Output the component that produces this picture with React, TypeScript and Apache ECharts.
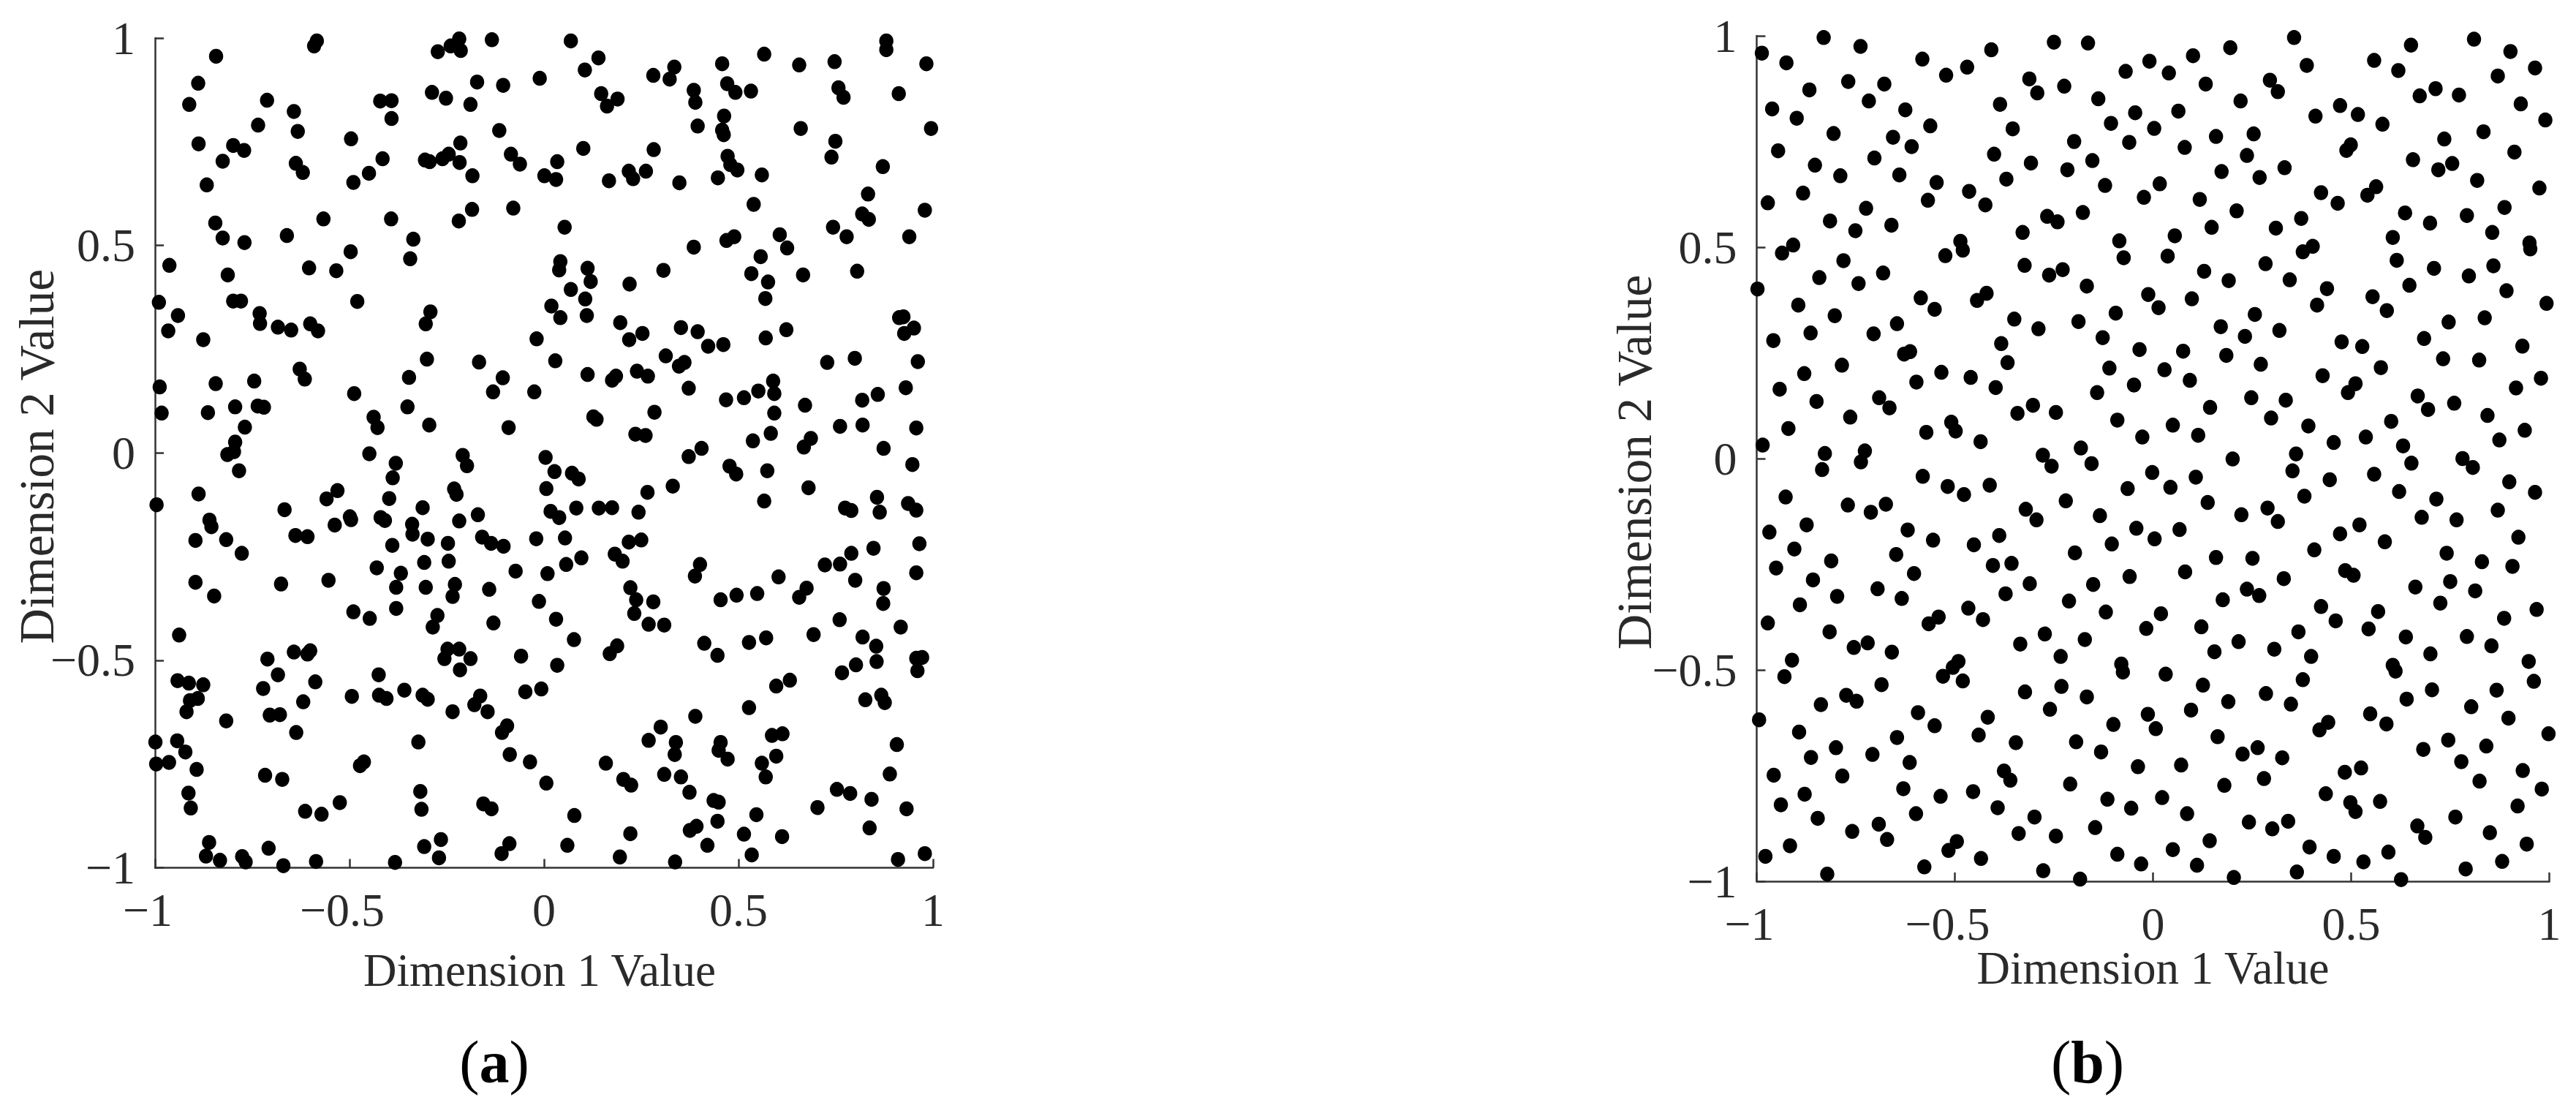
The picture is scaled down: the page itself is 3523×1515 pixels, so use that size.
import React, { useEffect, useRef } from "react";
import * as echarts from "echarts";

const xTitle = "Dimension 1 Value";
const yTitle = "Dimension 2 Value";
const captions = ["a", "b"];
const tickLabels: Record<string, string> = { "-1": "−1", "-0.5": "−0.5", "0": "0", "0.5": "0.5", "1": "1" };

const pointsAUpperLeft = [
[-.843,.956],[-.889,.891],[-.912,.840],[-.888,.745],[-.826,.703],[-.799,.741],[-.771,.729],[-.867,.646],[-.735,.790],[-.712,.850],[-.643,.823],[-.633,.775],[-.638,.698],[-.620,.676],[-.584,.993],[-.591,.981],[-.496,.757],[-.490,.652],[-.450,.674],[-.415,.709],[-.421,.848],[-.392,.849],[-.392,.806],[-.273,.967],[-.240,.981],[-.218,.998],[-.214,.970],[-.288,.869],[-.252,.855],[-.172,.894],[-.189,.840],[-.105,.886],[-.134,.996],[-.011,.903],[-.115,.777],[-.215,.747],[-.306,.706],[-.294,.702],[-.261,.709],[-.245,.720],[-.217,.700],[-.184,.668],[-.085,.720],[-.062,.696],[.001,.668],
[-.845,.554],[-.826,.518],[-.770,.507],[-.661,.524],[-.567,.564],[-.393,.564],[-.219,.559],[-.185,.587],[-.079,.590],[-.336,.515],[-.344,.468],[-.497,.485],[-.604,.446],[-.534,.439],[-.963,.452],[-.813,.429],[-.799,.366],[-.779,.366],[-.990,.363],[-.941,.331],[-.966,.294],[-.876,.273],[-.731,.336],[-.730,.312],[-.684,.303],[-.650,.296],[-.601,.311],[-.581,.294],[-.480,.365],[-.292,.340],[-.304,.311],[-.019,.275],[-.301,.226],[-.167,.219],[-.347,.182],[-.106,.181],[-.131,.147],[-.025,.147],[-.628,.202],[-.615,.178],[-.988,.159],[-.844,.167],[-.745,.173],[-.488,.143],[-.983,.096],[-.864,.097],[-.794,.111],[-.736,.113],[-.720,.110],[-.769,.062],[-.438,.086],[-.428,.061],[-.351,.111],[-.295,.067],[-.091,.061],[-.794,.026],[-.797,.003],[-.814,-.004],[-.449,-.002],[-.381,-.025],[-.209,-.006],[-.198,-.031],[.004,-.011],[-.784,-.043],
];

const pointsAUpperRight = [
[.069,.993],[.140,.952],[.105,.923],[.147,.866],[.189,.853],[.162,.836],[.281,.910],[.335,.930],[.323,.901],[.385,.874],[.389,.845],[.458,.938],[.471,.890],[.492,.869],[.532,.872],[.566,.961],[.656,.935],[.747,.943],[.880,.993],[.880,.972],[.983,.938],[.757,.880],[.770,.857],[.912,.866],[.463,.812],[.395,.788],[.458,.778],[.462,.767],[.660,.782],[.995,.782],[.749,.751],[.739,.713],[.871,.690],[.101,.734],[.282,.731],[.034,.702],[.031,.659],[.167,.656],[.218,.679],[.229,.661],[.262,.679],[.348,.651],[.447,.663],[.472,.715],[.479,.695],[.497,.682],[.560,.670],[.539,.599],[.833,.624],[.818,.576],[.835,.563],[.979,.585],[.053,.544],[.385,.496],[.469,.512],[.489,.521],[.606,.526],[.625,.494],[.743,.544],[.778,.521],[.939,.521],[.557,.473],[.042,.461],[.039,.441],[.112,.445],[.120,.413],[.307,.440],[.533,.432],[.576,.412],[.666,.429],[.805,.438],
[.069,.394],[.106,.371],[.220,.407],[.569,.372],[.019,.354],[.042,.326],[.110,.331],[.196,.314],[.253,.288],[.219,.273],[.352,.302],[.395,.292],[.422,.257],[.461,.261],[.570,.277],[.623,.297],[.913,.326],[.924,.328],[.951,.301],[.926,.288],[.029,.222],[.313,.234],[.347,.209],[.361,.218],[.728,.218],[.799,.228],[.961,.220],[.112,.189],[.175,.175],[.185,.185],[.239,.197],[.267,.185],[.589,.173],[.372,.156],[.592,.143],[.551,.149],[.514,.133],[.468,.128],[.930,.157],[.858,.141],[.818,.127],[.671,.115],[.592,.096],[.284,.098],[.127,.087],[.135,.081],[.761,.064],[.819,.067],[.957,.060],[.235,.045],[.261,.042],[.583,.047],[.537,.029],[.686,.035],[.668,.014],[.873,.011],[.405,.011],[.372,-.009],[.947,-.028],[.027,-.045],[.072,-.049],[.477,-.032],[.494,-.051],[.574,-.043],
];

const pointsALowerLeft = [
[-.389,-.060],[-.888,-.099],[-.996,-.125],[-.667,-.137],[-.559,-.111],[-.531,-.091],[-.398,-.110],[-.312,-.132],[-.231,-.087],[-.225,-.100],[.006,-.086],[-.170,-.149],[-.860,-.162],[-.855,-.178],[-.896,-.211],[-.817,-.209],[-.777,-.242],[-.639,-.199],[-.608,-.202],[-.538,-.174],[-.499,-.154],[-.496,-.161],[-.420,-.156],[-.409,-.163],[-.339,-.172],[-.338,-.196],[-.299,-.208],[-.390,-.223],[-.247,-.218],[-.218,-.164],[-.159,-.203],[-.136,-.218],[-.104,-.225],[-.020,-.207],[-.308,-.264],[-.245,-.261],[-.430,-.277],[-.368,-.290],[-.554,-.307],[-.676,-.316],[-.896,-.312],[-.848,-.345],[-.380,-.324],[-.304,-.324],[-.229,-.317],[-.235,-.346],[-.141,-.329],[-.073,-.285],[.009,-.291],[-.013,-.358],[-.380,-.375],[-.490,-.383],[-.448,-.399],[-.274,-.392],[-.286,-.420],[-.130,-.410],[-.938,-.439],[-.248,-.473],[-.218,-.473],[-.256,-.496],[-.189,-.496],[-.216,-.523],[-.643,-.480],[-.608,-.485],[-.601,-.477],[-.711,-.497],[-.684,-.535],[-.722,-.568],[-.588,-.552],[-.619,-.600],[-.705,-.632],[-.679,-.631],[-.637,-.674],[-.059,-.490],[-.425,-.535],[-.494,-.587],[-.424,-.584],[-.405,-.592],[-.359,-.572],[-.312,-.584],[-.299,-.594],[-.164,-.586],[-.179,-.607],[-.235,-.624],[-.145,-.624],[-.048,-.576],[-.007,-.569],
[-.942,-.549],[-.913,-.555],[-.876,-.559],[-.890,-.592],[-.910,-.597],[-.919,-.624],[-.817,-.646],[-.999,-.697],[-.943,-.694],[-.922,-.721],[-.997,-.750],[-.964,-.746],[-.893,-.763],[-.914,-.820],[-.908,-.856],[-.717,-.777],[-.673,-.787],[-.473,-.754],[-.463,-.745],[-.323,-.697],[-.318,-.816],[-.315,-.859],[-.108,-.674],[-.095,-.658],[-.088,-.727],[-.036,-.745],[.006,-.796],[-.525,-.843],[-.614,-.864],[-.572,-.871],[-.156,-.846],[-.135,-.858],[-.265,-.932],[-.308,-.949],[-.270,-.976],[-.383,-.987],[-.586,-.985],[-.670,-.995],[-.708,-.953],[-.776,-.973],[-.767,-.986],[-.833,-.982],[-.869,-.972],[-.861,-.939],[-.109,-.966],[-.089,-.942],
];

const pointsALowerRight = [
[.089,-.063],[.017,-.141],[.039,-.156],[.083,-.133],[.141,-.133],[.175,-.132],[.243,-.143],[.266,-.095],[.331,-.080],[.566,-.116],[.680,-.084],[.774,-.133],[.790,-.139],[.856,-.107],[.863,-.143],[.936,-.122],[.957,-.138],[.054,-.205],[.218,-.215],[.250,-.210],[.965,-.219],[.847,-.230],[.790,-.242],[.761,-.268],[.722,-.270],[.800,-.307],[.957,-.289],[.873,-.327],[.872,-.363],[.675,-.326],[.656,-.348],[.603,-.299],[.548,-.339],[.495,-.343],[.454,-.354],[.401,-.269],[.388,-.297],[.182,-.244],[.202,-.261],[.096,-.253],[.057,-.269],[.222,-.325],[.237,-.354],[.281,-.359],[.232,-.387],[.269,-.413],[.309,-.415],[.031,-.401],[.077,-.450],[.188,-.465],[.169,-.484],[.034,-.512],[.412,-.459],[.446,-.488],[.527,-.457],[.571,-.446],[.693,-.438],[.760,-.402],[.819,-.444],[.917,-.420],[.854,-.466],[.855,-.503],[.802,-.511],[.766,-.530],[.957,-.495],[.972,-.493],[.960,-.525],
[.632,-.548],[.597,-.562],[.527,-.614],[.389,-.635],[.826,-.595],[.867,-.584],[.876,-.602],[.300,-.661],[.269,-.693],[.339,-.698],[.336,-.727],[.454,-.698],[.449,-.717],[.472,-.738],[.586,-.681],[.613,-.677],[.597,-.731],[.560,-.748],[.570,-.781],[.907,-.703],[.889,-.774],[.159,-.748],[.309,-.775],[.352,-.781],[.204,-.787],[.224,-.801],[.374,-.818],[.436,-.838],[.449,-.842],[.078,-.874],[.753,-.811],[.787,-.821],[.842,-.835],[.703,-.855],[.932,-.858],[.546,-.872],[.446,-.888],[.392,-.900],[.375,-.910],[.222,-.918],[.837,-.904],[.514,-.919],[.612,-.925],[.420,-.946],[.060,-.946],[.534,-.969],[.195,-.974],[.337,-.986],[.910,-.980],[.979,-.966],
];

const pointsBUpperLeft = [
[-.831,.996],[-.738,.975],[-.987,.959],[-.925,.936],[-.867,.872],[-.769,.892],[-.678,.886],[-.717,.846],[-.582,.945],[-.522,.907],[-.469,.926],[-.408,.967],[-.250,.985],[-.164,.983],[-.312,.898],[-.292,.865],[-.224,.881],[-.138,.851],[-.386,.838],[-.625,.825],[-.961,.827],[-.899,.805],[-.806,.769],[-.562,.787],[-.354,.780],[-.106,.793],[-.946,.728],[-.656,.760],[-.609,.738],[-.703,.711],[-.853,.694],[-.789,.669],[-.640,.671],[-.401,.720],[-.308,.699],[-.199,.750],[-.153,.705],[-.216,.683],[-.370,.661],[-.121,.646],[-.546,.653],[-.464,.632],[-.568,.611],[-.423,.600],[-.883,.628],[-.972,.605],[-.724,.592],[-.815,.562],[-.660,.552],[-.751,.539],[-.267,.573],[-.241,.560],[-.177,.582],[-.329,.535],[-.908,.505],[-.936,.486],[-.085,.515],[-.486,.514],[-.480,.493],[-.524,.480],[-.781,.468],[-.324,.457],[-.228,.447],[-.262,.434],[-.681,.439],[-.842,.428],[-.743,.414],
[-.998,.401],[-.167,.408],[-.586,.380],[-.551,.353],[-.420,.391],[-.444,.374],[-.895,.363],[-.803,.338],[-.646,.319],[-.350,.330],[-.289,.307],[-.188,.324],[-.094,.344],[-.864,.297],[-.705,.295],[-.958,.279],[-.127,.286],[-.383,.272],[-.613,.253],[-.628,.247],[-.367,.227],[-.785,.221],[-.110,.214],[-.534,.204],[-.880,.201],[-.597,.181],[-.460,.192],[-.397,.168],[-.942,.164],[-.141,.156],[-.691,.144],[-.665,.120],[-.849,.135],[-.764,.098],[-.303,.126],[-.342,.107],[-.245,.109],[-.509,.086],[-.498,.065],[-.920,.071],[-.572,.062],[-.435,.040],[-.090,.091],[-.985,.032],[-.828,.012],[-.727,.018],[-.737,-.008],[-.278,.008],[-.256,-.018],[-.182,.025],[-.155,-.012],[-.835,-.026],
];

const pointsBUpperRight = [
[-.069,.916],[-.009,.940],[.040,.912],[.101,.953],[.195,.972],[.356,.996],[.388,.930],[.133,.886],[.295,.895],[.315,.868],[.558,.942],[.619,.918],[.651,.978],[.810,.992],[.902,.963],[.964,.924],[.870,.905],[.713,.875],[.673,.858],[.772,.860],[.928,.839],[.990,.801],[-.045,.818],[.064,.822],[.221,.846],[.003,.781],[.159,.762],[.254,.768],[.410,.810],[.472,.835],[.517,.814],[.579,.791],[.834,.773],[.735,.756],[.499,.742],[.488,.729],[-.060,.748],[.080,.736],[.237,.717],[.912,.725],[.656,.707],[.332,.688],[.173,.679],[.269,.665],[.755,.698],[.720,.683],[.017,.650],[-.023,.618],[.818,.658],[.975,.640],[.118,.613],[.424,.629],[.466,.604],[.563,.643],[.541,.623],[.211,.586],[.636,.581],[.699,.557],[.792,.575],[.887,.594],[.374,.568],[.310,.545],[.148,.547],[.055,.527],[.605,.523],[.856,.535],[.403,.502],[.378,.489],[.950,.510],[.952,.496],[-.074,.475],[.037,.479],[.284,.461],[.615,.469],[.709,.450],[.859,.456],[.797,.432],[.129,.443],[.191,.421],[.345,.423],
[.439,.402],[.647,.410],[.892,.397],[-.012,.388],[.014,.357],[.098,.378],[.554,.383],[.590,.350],[.414,.363],[.993,.367],[.257,.341],[.746,.323],[.837,.333],[.171,.312],[.232,.289],[.319,.303],[-.034,.258],[.076,.254],[.476,.276],[.528,.265],[.684,.284],[.932,.266],[.185,.244],[.272,.223],[.732,.236],[.823,.233],[.029,.210],[.575,.215],[.428,.196],[.511,.177],[.492,.156],[.093,.185],[-.048,.174],[.979,.190],[.916,.167],[.248,.144],[.335,.138],[.668,.148],[.694,.116],[.760,.131],[.144,.121],[.844,.102],[.298,.096],[.601,.088],[.050,.079],[.392,.077],[-.027,.051],[.114,.055],[.537,.051],[.456,.038],[.631,.030],[.938,.067],[.874,.044],[.201,-.001],[.361,.011],[.652,-.011],[.781,.000],[.807,-.021],[-.002,-.033],[.352,-.029],[.558,-.037],
];

const pointsBLowerLeft = [
[-.581,-.042],[-.518,-.066],[-.477,-.085],[-.412,-.063],[-.927,-.091],[-.770,-.110],[-.712,-.127],[-.674,-.108],[-.321,-.120],[-.294,-.145],[-.220,-.100],[-.134,-.135],[-.968,-.174],[-.874,-.157],[-.619,-.169],[-.555,-.193],[-.452,-.204],[-.388,-.182],[-.104,-.202],[-.905,-.214],[-.812,-.242],[-.648,-.227],[-.197,-.223],[-.951,-.259],[-.404,-.253],[-.357,-.248],[-.603,-.272],[-.858,-.287],[-.695,-.308],[-.311,-.296],[-.151,-.298],[-.797,-.326],[-.634,-.331],[-.372,-.320],[-.212,-.337],[-.891,-.346],[-.466,-.354],[-.429,-.381],[-.119,-.363],[-.972,-.389],[-.541,-.375],[-.566,-.391],[-.816,-.410],[-.720,-.436],[-.755,-.447],[-.659,-.458],[-.273,-.415],[-.172,-.428],[-.335,-.439],[-.233,-.468],[-.911,-.477],[-.491,-.480],[-.505,-.494],[-.930,-.516],[-.530,-.515],[-.480,-.526],[-.685,-.535],[-.231,-.539],[-.323,-.552],[-.167,-.564],[-.774,-.560],[-.748,-.574],[-.838,-.582],[-.260,-.593],
[-.593,-.601],[-.417,-.612],[-.994,-.618],[-.551,-.632],[-.100,-.629],[-.440,-.654],[-.893,-.647],[-.800,-.684],[-.646,-.660],[-.346,-.672],[-.194,-.670],[-.131,-.694],[-.708,-.700],[-.863,-.707],[-.614,-.719],[-.376,-.739],[-.360,-.761],[-.957,-.749],[-.784,-.751],[-.630,-.781],[-.209,-.770],[-.879,-.794],[-.536,-.799],[-.454,-.788],[-.939,-.819],[-.392,-.826],[-.115,-.806],[-.598,-.840],[-.846,-.851],[-.299,-.848],[-.692,-.865],[-.759,-.882],[-.146,-.873],[-.339,-.887],[-.671,-.901],[-.245,-.893],[-.495,-.906],[-.516,-.927],[-.916,-.916],[-.978,-.941],[-.434,-.946],[-.090,-.936],[-.822,-.983],[-.577,-.966],[-.277,-.975],[-.184,-.995],
];

const pointsBLowerRight = [
[-.064,-.071],[.044,-.068],[.108,-.044],[.446,-.050],[.382,-.089],[.621,-.078],[.715,-.096],[.899,-.055],[.964,-.080],[.138,-.104],[.289,-.117],[.315,-.149],[.223,-.133],[.678,-.139],[.766,-.145],[.870,-.122],[-.042,-.165],[.004,-.190],[.067,-.168],[.472,-.178],[.521,-.157],[.585,-.197],[.922,-.186],[.407,-.216],[.159,-.234],[.251,-.236],[.741,-.224],[.830,-.244],[.907,-.255],[-.059,-.279],[.081,-.268],[.485,-.265],[.506,-.276],[.330,-.284],[.662,-.304],[.750,-.291],[.813,-.313],[.237,-.309],[.268,-.324],[.176,-.334],[.725,-.342],[.424,-.350],[.020,-.367],[-.017,-.402],[.461,-.384],[.568,-.362],[.544,-.403],[.122,-.398],[.886,-.378],[.968,-.357],[.367,-.410],[.638,-.422],[.792,-.421],[.854,-.443],[.216,-.433],[.306,-.451],[.155,-.457],[.399,-.468],[.700,-.462],[-.080,-.486],[-.076,-.505],[.605,-.489],[.612,-.503],[.948,-.480],[.032,-.510],[.378,-.523],[.961,-.527],
[.126,-.536],[.704,-.547],[.867,-.548],[.285,-.556],[.190,-.575],[.348,-.581],[.640,-.569],[.803,-.587],[-.013,-.605],[.007,-.639],[.096,-.595],[.548,-.604],[.589,-.628],[.442,-.624],[.420,-.642],[.897,-.614],[.163,-.658],[.998,-.651],[.745,-.666],[.841,-.680],[.682,-.688],[.226,-.699],[.264,-.684],[.326,-.708],[.778,-.717],[-.038,-.729],[.071,-.725],[.525,-.732],[.484,-.742],[.280,-.757],[.933,-.738],[.824,-.763],[.180,-.773],[.436,-.793],[.981,-.782],[.498,-.814],[.511,-.835],[.573,-.811],[.023,-.802],[-.055,-.827],[.086,-.840],[.920,-.822],[.763,-.848],[.242,-.860],[.301,-.876],[.341,-.858],[.667,-.869],[.687,-.896],[.850,-.885],[.143,-.904],[.395,-.919],[.050,-.925],[.594,-.931],[.943,-.912],[.456,-.941],[.531,-.954],[.111,-.962],[-.030,-.959],[.363,-.978],[.881,-.953],[.789,-.971],[.204,-.991],[.626,-.996],
];

const pointsA = [...pointsAUpperLeft, ...pointsAUpperRight, ...pointsALowerLeft, ...pointsALowerRight];
const pointsB = [...pointsBUpperLeft, ...pointsBUpperRight, ...pointsBLowerLeft, ...pointsBLowerRight];

const FONT = '"Liberation Serif", "Times New Roman", serif';
const INK = "#2a2a2a";

function tickFormatter(value: number) {
  const text = tickLabels[String(value)] ?? String(value);
  return value < 0 ? `{neg|${text}}` : `{pos|${text}}`;
}

function valueAxis(gridIndex: number, name: string, isY: boolean, nameGap: number, namePadding: number[]) {
  return {
    gridIndex,
    type: "value",
    min: -1,
    max: 1,
    interval: 0.5,
    name,
    nameLocation: "middle",
    nameGap,
    nameMoveOverlap: false,
    nameTextStyle: { fontFamily: FONT, fontSize: isY ? 67 : 63, color: INK, padding: namePadding },
    splitLine: { show: false },
    axisLine: { show: true, onZero: false, lineStyle: { color: "#333333", width: 2.5 } },
    axisTick: { show: true, inside: true, length: 12, lineStyle: { color: "#333333", width: 2.5 } },
    axisLabel: {
      show: true,
      margin: isY ? 27 : 26,
      color: INK,
      fontFamily: FONT,
      fontSize: 64,
      formatter: isY ? (v: number) => tickLabels[String(v)] ?? String(v) : tickFormatter,
      rich: isY
        ? undefined
        : {
            neg: { fontFamily: FONT, fontSize: 64, color: INK, padding: [0, 20, 0, 0] },
            pos: { fontFamily: FONT, fontSize: 64, color: INK },
          },
    },
  };
}

function caption(letter: string, cx: number) {
  return {
    type: "text",
    x: cx,
    y: 1452,
    style: {
      text: `{n|(}{b|${letter}}{n|)}`,
      align: "center",
      verticalAlign: "middle",
      rich: {
        n: { fontFamily: FONT, fontSize: 82, fill: "#000000" },
        b: { fontFamily: FONT, fontSize: 82, fontWeight: "bold", fill: "#000000" },
      },
    },
  };
}

export default function App() {
  const ref = useRef<HTMLDivElement>(null);
  useEffect(() => {
    if (!ref.current) return;
    const chart = echarts.init(ref.current, undefined, { renderer: "svg" });
    const dot = { color: "#000000", opacity: 1 };
    chart.setOption({
      animation: false,
      backgroundColor: "#ffffff",
      grid: [
        { left: 212, top: 52, width: 1064, height: 1134.5 },
        { left: 2402.5, top: 49, width: 1084, height: 1156 },
      ],
      xAxis: [
        valueAxis(0, xTitle, false, 109, [0, 12, 0, 0]),
        valueAxis(1, xTitle, false, 87, [0, 0, 0, 0]),
      ],
      yAxis: [
        valueAxis(0, yTitle, true, 129, [0, 10, 0, 0]),
        valueAxis(1, yTitle, true, 134, [0, 10, 0, 0]),
      ],
      series: [
        { type: "scatter", xAxisIndex: 0, yAxisIndex: 0, data: pointsA, symbol: "circle", symbolSize: [19.5, 20.5], clip: false, itemStyle: dot, silent: true },
        { type: "scatter", xAxisIndex: 1, yAxisIndex: 1, data: pointsB, symbol: "circle", symbolSize: [19.5, 20.5], clip: false, itemStyle: dot, silent: true },
      ],
      graphic: [caption(captions[0], 676), caption(captions[1], 2855)],
    });
    return () => chart.dispose();
  }, []);
  return <div ref={ref} style={{ position: "absolute", left: 0, top: 0, width: 3523, height: 1515 }} />;
}
